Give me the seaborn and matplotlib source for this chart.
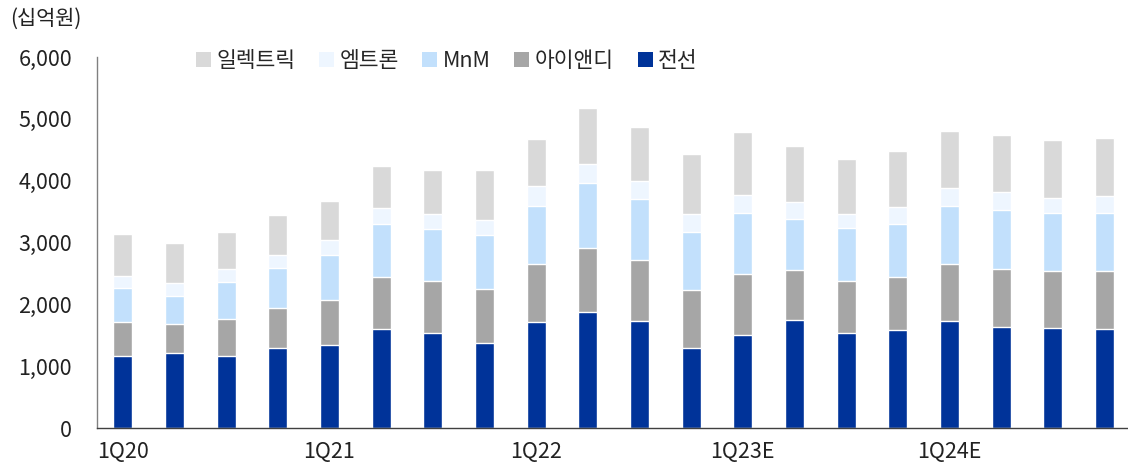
import numpy as np
import pandas as pd
import matplotlib
matplotlib.use("Agg")
import matplotlib.pyplot as plt
from matplotlib.patches import Patch
from matplotlib.ticker import FixedLocator, FuncFormatter
import seaborn as sns

# =========================
# DATA (십억원)
# =========================
quarters = ["1Q20", "2Q20", "3Q20", "4Q20",
            "1Q21", "2Q21", "3Q21", "4Q21",
            "1Q22", "2Q22", "3Q22", "4Q22",
            "1Q23E", "2Q23E", "3Q23E", "4Q23E",
            "1Q24E", "2Q24E", "3Q24E", "4Q24E"]

cable = [1160, 1215, 1175, 1290, 1340, 1600, 1535, 1385, 1715, 1880,
         1740, 1295, 1500, 1750, 1535, 1585, 1730, 1635, 1615, 1600]
ind = [550, 465, 590, 650, 725, 850, 850, 860, 945, 1040,
       980, 935, 990, 815, 850, 855, 930, 945, 930, 935]
mnm = [560, 455, 595, 655, 735, 855, 840, 875, 940, 1040,
       985, 945, 985, 825, 850, 860, 930, 955, 940, 940]
emtron = [195, 205, 210, 205, 240, 255, 235, 250, 310, 310,
          285, 290, 300, 275, 230, 275, 290, 280, 240, 280]
electric = [675, 650, 600, 645, 630, 680, 715, 800, 770, 910,
            875, 970, 1020, 890, 895, 905, 925, 925, 935, 945]

series = ["전선", "아이앤디", "MnM", "엠트론", "일렉트릭"]
colors = {"전선": "#003399", "아이앤디": "#A6A6A6", "MnM": "#C2E0FC",
          "엠트론": "#EEF6FF", "일렉트릭": "#D9D9D9"}

df = pd.DataFrame({"quarter": quarters, "전선": cable, "아이앤디": ind,
                   "MnM": mnm, "엠트론": emtron, "일렉트릭": electric})

# cumulative stacks, drawn from the tallest down
cum = df[series].cumsum(axis=1)

# =========================
# PLOT
# =========================
sns.set_style("white")
plt.rcParams["font.family"] = ["Noto Sans CJK KR", "DejaVu Sans"]

fig = plt.figure(figsize=(11.28, 4.68), dpi=100)
ax = fig.add_axes([0.086, 0.085, 0.916, 0.793])

for name in reversed(series):
    sns.barplot(x=df["quarter"], y=cum[name], color=colors[name],
                width=0.37, saturation=1, ax=ax, order=quarters)

ax.set_xlim(-0.5, len(quarters) - 0.5)
ax.set_ylim(0, 6000)
ax.set_xlabel("")
ax.set_ylabel("")

ax.yaxis.set_major_locator(FixedLocator(np.arange(0, 6001, 1000)))
ax.yaxis.set_major_formatter(FuncFormatter(lambda v, p: f"{int(v):,}"))

major = list(range(0, len(quarters), 4))
ax.xaxis.set_major_locator(FixedLocator(major))
ax.set_xticklabels([quarters[i] for i in major])
ax.xaxis.set_minor_locator(FixedLocator(np.arange(-0.5, len(quarters), 1)))

ax.tick_params(axis="x", which="major", length=0, labelsize=15.5, pad=9, colors="#222222")
ax.tick_params(axis="x", which="minor", length=5, width=1, color="#404040", direction="out")
ax.tick_params(axis="y", length=5, width=1, color="#808080", labelsize=15.5,
               pad=13, direction="out", labelcolor="#222222")

for s in ["top", "right"]:
    ax.spines[s].set_visible(False)
ax.spines["left"].set_color("#808080")
ax.spines["bottom"].set_color("#404040")
ax.spines["left"].set_linewidth(1)
ax.spines["bottom"].set_linewidth(1)

handles = [Patch(facecolor=colors[n], edgecolor="none", label=n)
           for n in reversed(series)]
fig.legend(handles=handles, loc="center left", bbox_to_anchor=(0.166, 0.869),
           ncol=5, frameon=False, fontsize=15.5, handlelength=0.7, handleheight=0.7,
           handletextpad=0.25, columnspacing=1.1, borderaxespad=0)

fig.text(0.009, 0.96, "(십억원)", fontsize=15, ha="left", va="center", color="#222222")

plt.savefig("out.png", dpi=100)
plt.close()
